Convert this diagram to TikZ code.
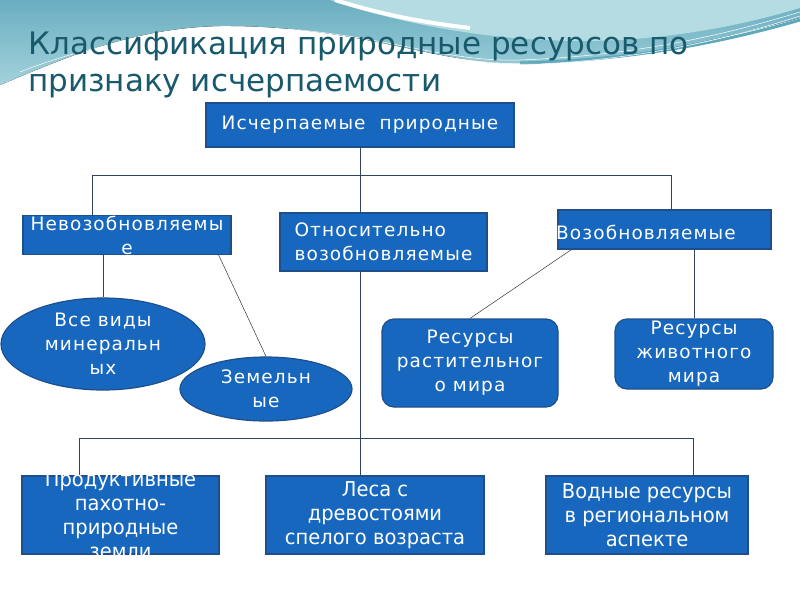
\documentclass[tikz,border=0pt]{standalone}
\usepackage{fontspec}
\setmainfont{DejaVu Sans}
\newfontfamily\boxfont[LetterSpace=6]{DejaVu Sans}
\newfontfamily\narrowfont[FakeStretch=0.95]{DejaVu Sans}
\usetikzlibrary{shapes.geometric,backgrounds}
\definecolor{boxblue}{HTML}{1767BF}
\definecolor{boxedge}{HTML}{1E4F8C}
\definecolor{linkgray}{HTML}{2E4560}
\definecolor{titleteal}{HTML}{18596B}
\definecolor{wavedark}{HTML}{6AAEC1}
\definecolor{wavelight}{HTML}{A3D2DB}
\definecolor{wavepale}{HTML}{B4DCE2}
\definecolor{waveband}{HTML}{5EA9BC}
\tikzset{
  res/.style={fill=boxblue,draw=boxedge,line width=1.2pt,text=white,align=center,
    inner sep=0pt,font=\boxfont\fontsize{18.5}{24}\selectfont},
  resbox/.style={res,rectangle,minimum width=#1},
  resoval/.style={res,ellipse},
  resround/.style={res,rectangle,rounded corners=12pt},
  lowbox/.style={res,rectangle,minimum width=#1,minimum height=78pt,
    font=\narrowfont\fontsize{20.5}{24}\selectfont},
  lowtext/.style={text=white,align=center,inner sep=0pt,font=\narrowfont\fontsize{20.5}{24}\selectfont},
  headline/.style={anchor=base west,text=titleteal,inner sep=0pt,font=\fontsize{31}{38}\selectfont},
  link/.style={draw=linkgray,line width=0.8pt},
  thinlink/.style={draw=black!80,line width=0.5pt}
}
\begin{document}
\begin{tikzpicture}[x=1pt,y=-1pt]
  \useasboundingbox (0,0) rectangle (800,600);
  % wave on top
  \begin{scope}[on background layer]
  \fill[top color=wavedark,bottom color=wavelight]
    (0,0) -- (800,0) -- (800,18) .. controls (700,45) and (600,65) .. (500,63)
    .. controls (430,60) and (350,25) .. (220,26) .. controls (130,28) and (60,60) .. (0,85) -- cycle;
  \fill[wavepale]
    (330,0) .. controls (420,30) and (520,45) .. (620,40) .. controls (700,35) and (760,20) .. (800,8) -- (800,0) -- cycle;
  \draw[white,line width=4pt] (335,0) .. controls (380,14) and (420,22) .. (470,28);
  \draw[waveband,line width=3pt] (520,63) .. controls (640,60) and (730,40) .. (800,20);
  \draw[white,line width=0.5pt] (20,72) .. controls (100,40) and (200,25) .. (300,30)
    .. controls (400,40) and (450,62) .. (520,60) .. controls (650,55) and (740,30) .. (800,12);
  \draw[white,line width=0.5pt] (0,88) .. controls (90,50) and (190,32) .. (300,36)
    .. controls (400,45) and (460,66) .. (540,64) .. controls (660,58) and (750,32) .. (800,16);
  \end{scope}
  % title
  \node[headline] (title1) at (28,54) {Классификация природные ресурсов по};
  \node[headline] (title2) at (28,91) {признаку исчерпаемости};
  % boxes
  \node[resbox=308pt,minimum height=44pt] (top) at (360,125) {Исчерпаемые\ \ природные};
  \node[resbox=208pt,minimum height=38pt] (nevoz) at (127,235) {Невозобновляемы\\е};
  \node[resbox=207pt,minimum height=58pt,align=left] (otnos) at (383.5,242) {Относительно\\возобновляемые};
  \node[resbox=213pt,minimum height=39pt] (vozob) at (664.5,229.5) {};
  \node[text=white,inner sep=0pt,font=\boxfont\fontsize{18.5}{24}\selectfont] (vozobtxt) at (646,232) {Возобновляемые};
  \node[resoval,minimum width=204pt,minimum height=92pt] (mineral) at (103,344) {Все виды\\минеральн\\ых};
  \node[resoval,minimum width=172pt,minimum height=64pt] (zemel) at (266,389) {Земельн\\ые};
  \node[resround,minimum width=176pt,minimum height=88pt] (rastit) at (470,363) {Ресурсы\\растительног\\о мира};
  \node[resround,minimum width=158pt,minimum height=70pt] (zhivot) at (694,354) {Ресурсы\\животного\\мира};
  \node[lowbox=197pt] (pashnya) at (120.5,515) {};
  \node[lowtext] (pashnyatxt) at (pashnya.center) {Продуктивные\\пахотно-\\природные\\земли};
  \node[lowbox=218pt] (lesa) at (375,515) {Леса с\\древостоями\\спелого возраста};
  \node[lowbox=202pt] (voda) at (647,515) {Водные ресурсы\\в региональном\\аспекте};
  % tree
  \coordinate (hub1) at (360,175);
  \coordinate (hub2) at (360,438);
  \coordinate (left1) at (92,175);
  \coordinate (right1) at (671,175);
  \coordinate (left2) at (79,438);
  \coordinate (right2) at (693,438);
  \begin{scope}[on background layer]
  \draw[link] (top.south) -- (hub2);
  \draw[link] (left1) -- (right1);
  \draw[link] (left1) -- (left1 |- nevoz.north);
  \draw[link] (right1) -- (right1 |- vozob.north);
  \draw[link] (mineral.north |- nevoz.south) -- (mineral.north);
  \draw[thinlink] ([xshift=-13pt]nevoz.south east) -- (zemel.north);
  \draw[thinlink] ([xshift=14pt]vozob.south west) -- (rastit.north);
  \draw[link] (zhivot.north |- vozob.south) -- (zhivot.north);
  \draw[link] (left2) -- (right2);
  \draw[link] (left2) -- (left2 |- pashnya.north);
  \draw[link] (hub2) -- (hub2 |- lesa.north);
  \draw[link] (right2) -- (right2 |- voda.north);
  \end{scope}
\end{tikzpicture}
\end{document}
